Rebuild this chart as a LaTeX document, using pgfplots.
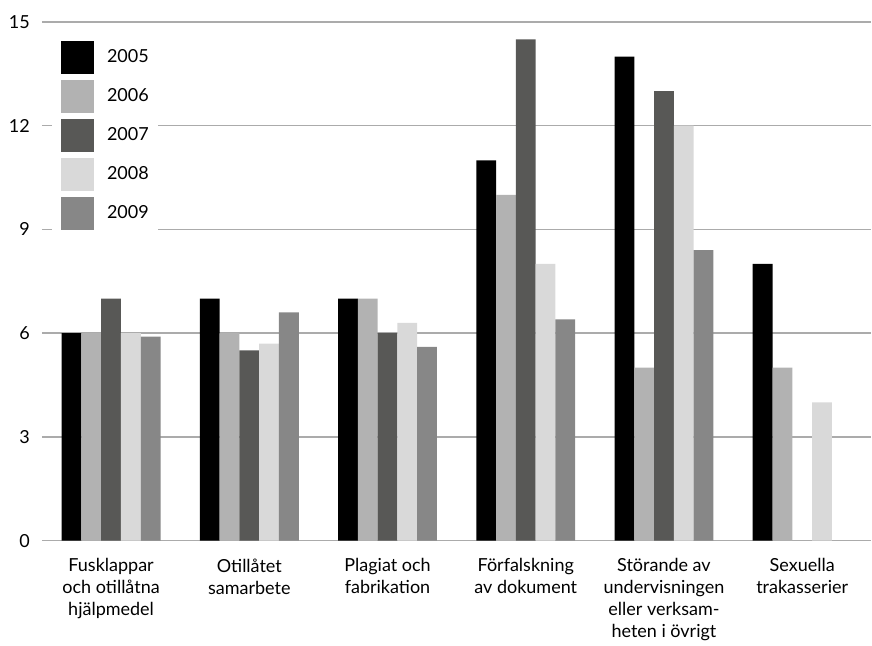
\documentclass[border=0pt]{standalone}
\usepackage{fontspec}
\setmainfont{Lato}
\usepackage{pgfplots}
\pgfplotsset{compat=1.18}
\definecolor{c05}{HTML}{000000}
\definecolor{c06}{HTML}{B2B2B2}
\definecolor{c07}{HTML}{585856}
\definecolor{c08}{HTML}{D9D9D9}
\definecolor{c09}{HTML}{878787}
\definecolor{gridc}{HTML}{ABABAB}
\begin{document}
\begin{tikzpicture}
\begin{axis}[
 scale only axis, width=830bp, height=519bp,
 xmin=-0.5, xmax=5.5, ymin=0, ymax=15,
 ybar=0pt, bar width=19.8bp,
 axis line style={draw=none},
 major tick length=0pt,
 ytick={0,3,6,9,12,15},
 xtick={0,1,2,3,4,5},
 xticklabels={{Fusklappar\\och otillåtna\\hjälpmedel},{Otillåtet\\samarbete},{Plagiat och\\fabrikation},{Förfalskning\\av dokument},{Störande av\\undervisningen\\eller verksam-\\heten i övrigt},{Sexuella\\trakasserier}},
 ymajorgrids, grid style={draw=gridc, line width=1.4bp},
 /pgf/number format/assume math mode=true,
 tick label style={font=\fontsize{18bp}{22bp}\selectfont},
 yticklabel style={inner sep=0pt, xshift=-12bp},
 xticklabel style={align=center, inner sep=0pt, yshift=-18bp},
 legend style={at={(axis description cs:0.012,0.979)}, anchor=north west, draw=none, fill=white, inner xsep=9bp, inner ysep=8bp, row sep=6bp, column sep=13bp, nodes={inner sep=0pt}, font=\fontsize{18bp}{22bp}\selectfont},
 legend cell align=left,
 mybar/.style={draw=none, legend image code/.code={\fill[##1] (0bp,-17.5bp) rectangle (33bp,15.5bp);}},
]
\addplot[mybar, fill=c05] coordinates {(0,6) (1,7) (2,7) (3,11) (4,14) (5,8)};
\addplot[mybar, fill=c06] coordinates {(0,6) (1,6) (2,7) (3,10) (4,5) (5,5)};
\addplot[mybar, fill=c07] coordinates {(0,7) (1,5.5) (2,6) (3,14.5) (4,13)};
\addplot[mybar, fill=c08] coordinates {(0,6) (1,5.7) (2,6.3) (3,8) (4,12) (5,4)};
\addplot[mybar, fill=c09] coordinates {(0,5.9) (1,6.6) (2,5.6) (3,6.4) (4,8.4)};
\legend{2005,2006,2007,2008,2009}
\end{axis}
\path (current axis.south west) ++(-42bp,-105bp) rectangle ++(872bp,646bp);
\end{tikzpicture}
\end{document}
